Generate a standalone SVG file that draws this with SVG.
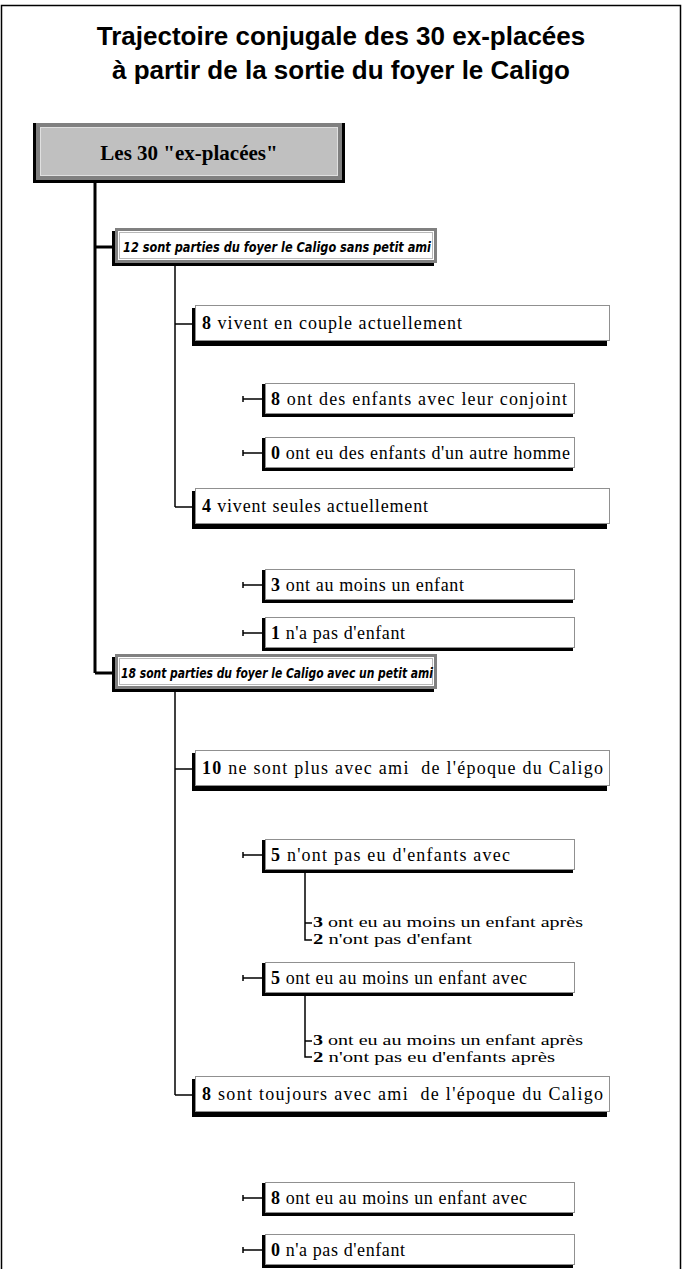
<svg xmlns="http://www.w3.org/2000/svg" width="683" height="1269" viewBox="0 0 683 1269">
<style>
.title{font-family:"Liberation Sans",Arial,sans-serif;font-weight:bold;font-size:26px;text-anchor:middle;fill:#000}
.root{font-family:"Liberation Serif","Times New Roman",serif;font-weight:bold;font-size:21px;text-anchor:middle;fill:#000}
.l2{font-family:"DejaVu Sans",Verdana,sans-serif;font-weight:bold;font-style:italic;font-size:14.5px;fill:#000}
.t{font-family:"Liberation Serif","Times New Roman",serif;font-size:18px;fill:#000;white-space:pre}
.s{font-family:"Liberation Serif","Times New Roman",serif;font-size:15px;fill:#000}
.b{font-weight:bold}
.sh{fill:#000}
.box{fill:#fff;stroke:#909090;stroke-width:1}
.box2{fill:#fff;stroke:#808080;stroke-width:3}
.in2{fill:none;stroke:#b8b8b8;stroke-width:1}
.c{stroke:#000;fill:none}
.thick{stroke-width:3}
.thin{stroke-width:1.5}
</style>
<rect x="1.5" y="5.5" width="679" height="1300" fill="#fff" stroke="#000" stroke-width="1.5"/>
<g id="title">
<text class="title" x="341" y="45">Trajectoire conjugale des 30 ex-placées</text>
<text class="title" x="341" y="79">à partir de la sortie du foyer le Caligo</text>
</g>
<g id="connectors">
<line class="c thick" x1="95" y1="183" x2="95" y2="673"/>
<line class="c thick" x1="95" y1="247" x2="112" y2="247"/>
<line class="c thick" x1="95" y1="673" x2="112" y2="673"/>
<line class="c thin" x1="175" y1="266" x2="175" y2="507"/>
<line class="c thin" x1="175" y1="324" x2="192" y2="324"/>
<line class="c thin" x1="175" y1="507" x2="192" y2="507"/>
<path class="c thin" d="M243 399H262M243 396V402"/>
<path class="c thin" d="M243 453H262M243 450V456"/>
<path class="c thin" d="M243 585H262M243 582V588"/>
<path class="c thin" d="M243 633H262M243 630V636"/>
<line class="c thin" x1="175" y1="691" x2="175" y2="1095"/>
<line class="c thin" x1="175" y1="769" x2="192" y2="769"/>
<line class="c thin" x1="175" y1="1095" x2="192" y2="1095"/>
<path class="c thin" d="M243 855H262M243 852V858"/>
<path class="c thin" d="M243 978H262M243 975V981"/>
<path class="c thin" d="M243 1198H262M243 1195V1201"/>
<path class="c thin" d="M243 1250H262M243 1247V1253"/>
<path class="c thin" d="M305 873V940H312M305 923H312"/>
<path class="c thin" d="M305 996V1057H312M305 1041H312"/>
</g>
<g id="root">
<rect x="33" y="123" width="312" height="60" fill="#000"/>
<rect x="36" y="123" width="306" height="57" fill="#808080"/>
<rect x="40.5" y="127.5" width="297" height="48" fill="#c0c0c0" stroke="#e0e0e0" stroke-width="1"/>
<text class="root" x="189" y="160">Les 30 "ex-placées"</text>
</g>
<g id="n12">
<rect class="sh" x="112" y="231" width="322" height="35"/>
<rect class="box2" x="116.5" y="229.5" width="319" height="32"/>
<rect class="in2" x="119.5" y="232.5" width="313" height="26"/>
<text class="l2" x="123" y="252" textLength="308" lengthAdjust="spacingAndGlyphs">12 sont parties du foyer le Caligo sans petit ami</text>
</g>
<g id="n8couple">
<rect class="sh" x="192" y="308" width="415" height="38"/>
<rect class="box" x="195.5" y="305.5" width="414" height="35"/>
<text class="t" x="202" y="329" textLength="260"><tspan class="b">8</tspan> vivent en couple actuellement</text>
</g>
<g id="n8enf">
<rect class="sh" x="262" y="384" width="311" height="33"/>
<rect class="box" x="265.5" y="383.5" width="309" height="30"/>
<text class="t" x="271" y="405" textLength="296"><tspan class="b">8</tspan> ont des enfants avec leur conjoint</text>
</g>
<g id="n0enf">
<rect class="sh" x="262" y="438" width="311" height="33"/>
<rect class="box" x="265.5" y="437.5" width="309" height="30"/>
<text class="t" x="271" y="459" textLength="299"><tspan class="b">0</tspan> ont eu des enfants d'un autre homme</text>
</g>
<g id="n4seules">
<rect class="sh" x="192" y="491" width="415" height="38"/>
<rect class="box" x="195.5" y="488.5" width="414" height="35"/>
<text class="t" x="202" y="512" textLength="226"><tspan class="b">4</tspan> vivent seules actuellement</text>
</g>
<g id="n3moins">
<rect class="sh" x="262" y="570" width="311" height="33"/>
<rect class="box" x="265.5" y="569.5" width="309" height="30"/>
<text class="t" x="271" y="591" textLength="193"><tspan class="b">3</tspan> ont au moins un enfant</text>
</g>
<g id="n1pas">
<rect class="sh" x="262" y="618" width="311" height="33"/>
<rect class="box" x="265.5" y="617.5" width="309" height="30"/>
<text class="t" x="271" y="639" textLength="134"><tspan class="b">1</tspan> n'a pas d'enfant</text>
</g>
<g id="n18">
<rect class="sh" x="112" y="657" width="322" height="35"/>
<rect class="box2" x="116.5" y="655.5" width="319" height="32"/>
<rect class="in2" x="119.5" y="658.5" width="313" height="26"/>
<text class="l2" x="121" y="678" textLength="312" lengthAdjust="spacingAndGlyphs">18 sont parties du foyer le Caligo avec un petit ami</text>
</g>
<g id="n10">
<rect class="sh" x="192" y="753" width="415" height="38"/>
<rect class="box" x="195.5" y="750.5" width="414" height="35"/>
<text class="t" x="202" y="774" textLength="401"><tspan class="b">10</tspan> ne sont plus avec ami  de l'époque du Caligo</text>
</g>
<g id="n5pas">
<rect class="sh" x="262" y="840" width="311" height="33"/>
<rect class="box" x="265.5" y="839.5" width="309" height="30"/>
<text class="t" x="271" y="861" textLength="239"><tspan class="b">5</tspan> n'ont pas eu d'enfants avec</text>
</g>
<g id="n5pas_sub">
<text class="s" x="313" y="927" textLength="270" lengthAdjust="spacingAndGlyphs"><tspan class="b">3</tspan> ont eu au moins un enfant après</text>
<text class="s" x="313" y="944" textLength="159" lengthAdjust="spacingAndGlyphs"><tspan class="b">2</tspan> n'ont pas d'enfant</text>
</g>
<g id="n5avec">
<rect class="sh" x="262" y="963" width="311" height="33"/>
<rect class="box" x="265.5" y="962.5" width="309" height="30"/>
<text class="t" x="271" y="984" textLength="256"><tspan class="b">5</tspan> ont eu au moins un enfant avec</text>
</g>
<g id="n5avec_sub">
<text class="s" x="313" y="1045" textLength="270" lengthAdjust="spacingAndGlyphs"><tspan class="b">3</tspan> ont eu au moins un enfant après</text>
<text class="s" x="313" y="1062" textLength="242" lengthAdjust="spacingAndGlyphs"><tspan class="b">2</tspan> n'ont pas eu d'enfants après</text>
</g>
<g id="n8toujours">
<rect class="sh" x="192" y="1079" width="415" height="38"/>
<rect class="box" x="195.5" y="1076.5" width="414" height="35"/>
<text class="t" x="202" y="1100" textLength="401"><tspan class="b">8</tspan> sont toujours avec ami  de l'époque du Caligo</text>
</g>
<g id="n8avec">
<rect class="sh" x="262" y="1183" width="311" height="33"/>
<rect class="box" x="265.5" y="1182.5" width="309" height="30"/>
<text class="t" x="271" y="1204" textLength="256"><tspan class="b">8</tspan> ont eu au moins un enfant avec</text>
</g>
<g id="n0pas">
<rect class="sh" x="262" y="1235" width="311" height="33"/>
<rect class="box" x="265.5" y="1234.5" width="309" height="30"/>
<text class="t" x="271" y="1256" textLength="134"><tspan class="b">0</tspan> n'a pas d'enfant</text>
</g>
</svg>
